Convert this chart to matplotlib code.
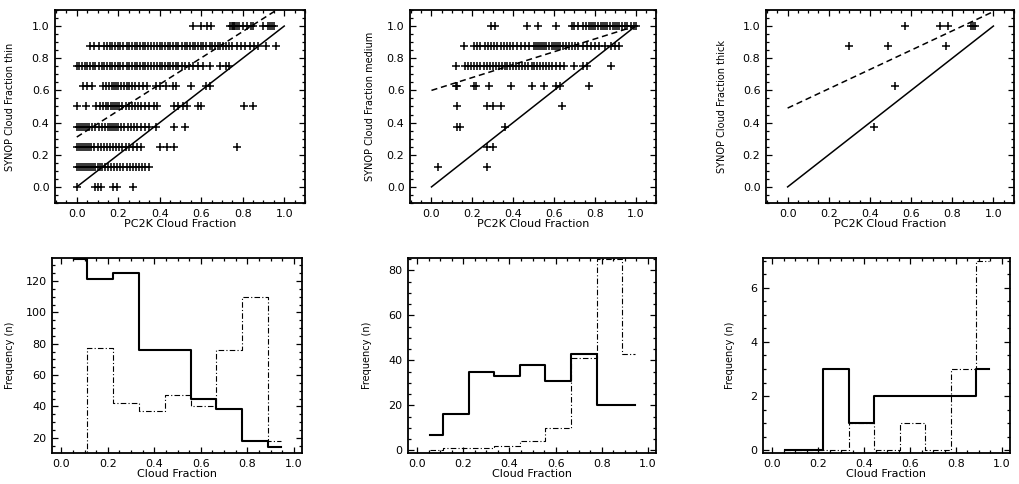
import matplotlib
matplotlib.use("Agg")
import matplotlib.pyplot as plt
import numpy as np
from matplotlib.ticker import MultipleLocator, AutoMinorLocator, FormatStrFormatter

# ---- scatter data: PC2K cloud fraction (x) per SYNOP okta level (y) ----
okta_levels = [0.0, 0.125, 0.25, 0.375, 0.5, 0.625, 0.75, 0.875, 1.0]

thin_x_000 = [0.0, 0.09, 0.10, 0.115, 0.175, 0.195, 0.27]
thin_x_012 = [0.0, 0.01, 0.02, 0.03, 0.04, 0.05, 0.06, 0.07, 0.08, 0.09, 0.10, 0.11,
              0.12, 0.135, 0.15, 0.165, 0.18, 0.195, 0.21, 0.225, 0.24, 0.255, 0.27,
              0.285, 0.30, 0.315, 0.33, 0.35]
thin_x_025 = [0.0, 0.01, 0.02, 0.03, 0.04, 0.05, 0.06, 0.07, 0.085, 0.10, 0.115, 0.13,
              0.145, 0.16, 0.175, 0.19, 0.205, 0.22, 0.235, 0.25, 0.27, 0.29, 0.31,
              0.40, 0.435, 0.47, 0.77]
thin_x_038 = [0.0, 0.01, 0.02, 0.03, 0.04, 0.05, 0.06, 0.075, 0.09, 0.105, 0.12, 0.135,
              0.15, 0.16, 0.17, 0.18, 0.19, 0.20, 0.215, 0.23, 0.245, 0.26, 0.275, 0.29,
              0.31, 0.33, 0.35, 0.38, 0.47, 0.52]
thin_x_050 = [0.0, 0.045, 0.095, 0.11, 0.125, 0.14, 0.15, 0.165, 0.175, 0.185, 0.195,
              0.205, 0.22, 0.235, 0.25, 0.265, 0.28, 0.295, 0.31, 0.33, 0.35, 0.37,
              0.385, 0.47, 0.49, 0.51, 0.53, 0.585, 0.60, 0.805, 0.85]
thin_x_062 = [0.03, 0.05, 0.075, 0.125, 0.14, 0.155, 0.17, 0.18, 0.19, 0.20, 0.215,
              0.23, 0.24, 0.25, 0.265, 0.28, 0.30, 0.32, 0.34, 0.38, 0.40, 0.43, 0.465,
              0.48, 0.55, 0.625, 0.64]
thin_x_075 = [0.0, 0.01, 0.025, 0.04, 0.05, 0.065, 0.08, 0.09, 0.105, 0.12, 0.13, 0.145,
              0.16, 0.17, 0.185, 0.20, 0.21, 0.225, 0.24, 0.25, 0.265, 0.28, 0.29, 0.305,
              0.32, 0.33, 0.345, 0.36, 0.37, 0.385, 0.40, 0.41, 0.425, 0.44, 0.45, 0.465,
              0.48, 0.49, 0.505, 0.52, 0.54, 0.56, 0.585, 0.61, 0.64, 0.69, 0.72, 0.735]
thin_x_088 = [0.065, 0.085, 0.105, 0.13, 0.145, 0.16, 0.17, 0.185, 0.20, 0.21, 0.225,
              0.24, 0.25, 0.265, 0.28, 0.29, 0.305, 0.32, 0.33, 0.345, 0.36, 0.37, 0.385,
              0.40, 0.41, 0.425, 0.44, 0.45, 0.465, 0.48, 0.49, 0.505, 0.52, 0.53, 0.545,
              0.56, 0.57, 0.585, 0.60, 0.61, 0.625, 0.64, 0.65, 0.665, 0.68, 0.69, 0.705,
              0.72, 0.735, 0.75, 0.77, 0.79, 0.81, 0.835, 0.855, 0.875, 0.91, 0.96]
thin_x_100 = [0.56, 0.60, 0.63, 0.645, 0.74, 0.75, 0.755, 0.76, 0.765, 0.77, 0.78, 0.80,
              0.82, 0.84, 0.85, 0.90, 0.92, 0.93, 0.94, 0.95]

medium_x_000 = []
medium_x_012 = [0.03, 0.27]
medium_x_025 = [0.27, 0.30]
medium_x_038 = [0.125, 0.14, 0.36]
medium_x_050 = [0.125, 0.27, 0.30, 0.34, 0.64]
medium_x_062 = [0.12, 0.125, 0.21, 0.22, 0.28, 0.39, 0.49, 0.55, 0.61, 0.63, 0.77]
medium_x_075 = [0.12, 0.165, 0.18, 0.195, 0.21, 0.225, 0.24, 0.255, 0.27, 0.285, 0.30,
                0.315, 0.33, 0.345, 0.36, 0.37, 0.385, 0.40, 0.415, 0.43, 0.445, 0.46,
                0.475, 0.49, 0.50, 0.515, 0.53, 0.545, 0.56, 0.575, 0.59, 0.61, 0.63,
                0.65, 0.70, 0.74, 0.76, 0.88]
medium_x_088 = [0.16, 0.21, 0.225, 0.24, 0.26, 0.275, 0.29, 0.305, 0.32, 0.34, 0.355,
                0.37, 0.385, 0.40, 0.42, 0.44, 0.46, 0.48, 0.50, 0.51, 0.52, 0.53, 0.54,
                0.55, 0.56, 0.575, 0.59, 0.60, 0.61, 0.62, 0.63, 0.645, 0.66, 0.675, 0.69,
                0.705, 0.72, 0.74, 0.76, 0.78, 0.80, 0.82, 0.85, 0.88, 0.90, 0.92]
medium_x_100 = [0.29, 0.31, 0.47, 0.52, 0.61, 0.69, 0.70, 0.72, 0.74, 0.755, 0.77, 0.78,
                0.79, 0.80, 0.815, 0.83, 0.84, 0.85, 0.86, 0.875, 0.89, 0.90, 0.91, 0.92,
                0.935, 0.95, 0.96, 0.975, 0.99, 1.0]

thick_x = [0.30, 0.49, 0.57, 0.74, 0.78, 0.77, 0.89, 0.90, 0.91, 0.52, 0.42]
thick_y = [0.875, 0.875, 1.0, 1.0, 1.0, 0.875, 1.0, 1.0, 1.0, 0.625, 0.375]

# linear fits (intercept, slope), dashed
thin_fit = (0.31, 0.82)
medium_fit = (0.60, 0.40)
thick_fit = (0.49, 0.60)

# ---- histograms: 9 bins of cloud fraction ----
bin_centers = [0.056, 0.167, 0.278, 0.389, 0.500, 0.611, 0.722, 0.833, 0.944]
thin_pc2k = [134, 121, 125, 76, 76, 45, 38, 18, 14]
thin_synop = [0, 77, 42, 37, 47, 40, 76, 110, 18]
medium_pc2k = [7, 16, 35, 33, 38, 31, 43, 20, 20]
medium_synop = [0, 1, 1, 2, 4, 10, 41, 85, 43]
thick_pc2k = [0, 0, 3, 1, 2, 2, 2, 2, 3]
thick_synop = [0, 0, 0, 1, 0, 1, 0, 3, 7]


def rows_to_points(rows):
    xs, ys = [], []
    for lev, row in zip(okta_levels, rows):
        xs += row
        ys += [lev] * len(row)
    return xs, ys


FS = 8


def style_axes(ax, ymajor, yfmt):
    ax.tick_params(which="both", direction="in", top=True, right=True,
                   labelsize=FS, width=0.9)
    ax.tick_params(which="major", length=4, pad=4)
    ax.tick_params(which="minor", length=2)
    ax.xaxis.set_major_locator(MultipleLocator(0.2))
    ax.xaxis.set_minor_locator(AutoMinorLocator(4))
    ax.xaxis.set_major_formatter(FormatStrFormatter("%.1f"))
    ax.yaxis.set_major_locator(MultipleLocator(ymajor))
    ax.yaxis.set_minor_locator(AutoMinorLocator(4))
    ax.yaxis.set_major_formatter(FormatStrFormatter(yfmt))
    for s in ax.spines.values():
        s.set_linewidth(1.3)


fig = plt.figure(figsize=(10.2, 4.84), dpi=100)

top_pos = [[0.0539, 0.5806, 0.2451, 0.3988],
           [0.4020, 0.5806, 0.2412, 0.3988],
           [0.7510, 0.5806, 0.2431, 0.3988]]
bot_pos = [[0.0510, 0.0640, 0.2451, 0.4030],
           [0.4000, 0.0640, 0.2431, 0.4030],
           [0.7480, 0.0640, 0.2422, 0.4030]]

thin_pts = rows_to_points([thin_x_000, thin_x_012, thin_x_025, thin_x_038, thin_x_050,
                           thin_x_062, thin_x_075, thin_x_088, thin_x_100])
medium_pts = rows_to_points([medium_x_000, medium_x_012, medium_x_025, medium_x_038,
                             medium_x_050, medium_x_062, medium_x_075, medium_x_088,
                             medium_x_100])
scatter_sets = [(thin_pts, thin_fit, "SYNOP Cloud Fraction thin", -0.16),
                (medium_pts, medium_fit, "SYNOP Cloud Fraction medium", -0.142),
                ((thick_x, thick_y), thick_fit, "SYNOP Cloud Fraction thick", -0.158)]

for pos, (pts, fit, ylab, lx) in zip(top_pos, scatter_sets):
    ax = fig.add_axes(pos)
    ax.plot(pts[0], pts[1], "+", color="black", markersize=6, mew=1.1)
    ax.plot([0, 1], [0, 1], "-", color="black", lw=1.1)
    fx = np.array([0.0, 1.0])
    ax.plot(fx, fit[0] + fit[1] * fx, color="black", lw=1.1, linestyle=(0, (4, 2.5)))
    ax.set_xlim(-0.105, 1.1)
    ax.set_ylim(-0.1, 1.1)
    style_axes(ax, 0.2, "%.1f")
    ax.set_xlabel("PC2K Cloud Fraction", fontsize=FS)
    ax.xaxis.set_label_coords(0.5, -0.085)
    ax.set_ylabel(ylab, fontsize=7)
    ax.yaxis.set_label_coords(lx, 0.5)

hist_sets = [(thin_pc2k, thin_synop, (10.2, 134.7), 20, -0.15),
             (medium_pc2k, medium_synop, (-1.2, 85.5), 20, -0.146),
             (thick_pc2k, thick_synop, (-0.1, 7.1), 2, -0.113)]

for pos, (pc2k, synop, ylim, ymaj, lx) in zip(bot_pos, hist_sets):
    ax = fig.add_axes(pos)
    ax.step(bin_centers, synop, where="mid", color="black", lw=0.8,
            linestyle=(0, (5, 2, 1, 2)))
    ax.step(bin_centers, pc2k, where="mid", color="black", lw=1.5)
    ax.set_xlim(-0.04, 1.035)
    ax.set_ylim(*ylim)
    style_axes(ax, ymaj, "%d")
    ax.set_xlabel("Cloud Fraction", fontsize=FS)
    ax.xaxis.set_label_coords(0.5, -0.08)
    ax.set_ylabel("Frequency (n)", fontsize=7)
    ax.yaxis.set_label_coords(lx, 0.5)

fig.savefig("out.png", dpi=100)
